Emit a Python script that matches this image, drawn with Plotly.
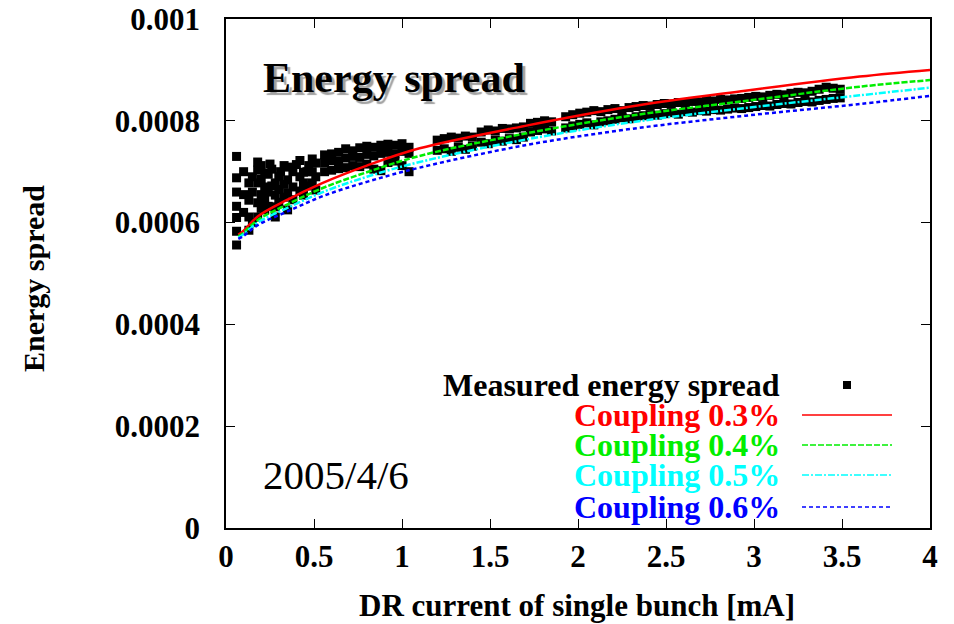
import plotly.graph_objects as go

# ---------------- data ----------------
# measured energy spread (x: DR current of single bunch [mA])
meas_x_low = [0.06, 0.06, 0.06, 0.06, 0.06, 0.06, 0.06,
              0.10, 0.10, 0.10,
              0.13, 0.13, 0.13, 0.13,
              0.15, 0.15, 0.15,
              0.18, 0.18, 0.18, 0.18, 0.18,
              0.20, 0.20, 0.20, 0.20,
              0.22, 0.22, 0.22, 0.22,
              0.24, 0.24, 0.24, 0.25,
              0.26, 0.26,
              0.28, 0.28, 0.28, 0.28,
              0.30, 0.30, 0.30, 0.31,
              0.33, 0.33, 0.33,
              0.35, 0.35, 0.35, 0.35,
              0.38, 0.38, 0.38, 0.40,
              0.42, 0.42, 0.42,
              0.44, 0.44, 0.44,
              0.46, 0.46, 0.47,
              0.49, 0.49, 0.49,
              0.51, 0.51, 0.51]
meas_y_low = [0.000730, 0.000688, 0.000660, 0.000632, 0.000610, 0.000583, 0.000556,
              0.000700, 0.000655, 0.000620,
              0.000678, 0.000644, 0.000611, 0.000585,
              0.000690, 0.000660, 0.000600,
              0.000719, 0.000703, 0.000678, 0.000639, 0.000611,
              0.000712, 0.000685, 0.000655, 0.000628,
              0.000697, 0.000670, 0.000644, 0.000625,
              0.000695, 0.000660, 0.000632, 0.000715,
              0.000705, 0.000672,
              0.000678, 0.000654, 0.000631, 0.000611,
              0.000690, 0.000665, 0.000640, 0.000700,
              0.000712, 0.000675, 0.000650,
              0.000709, 0.000684, 0.000658, 0.000625,
              0.000700, 0.000670, 0.000645, 0.000714,
              0.000722, 0.000690, 0.000662,
              0.000699, 0.000678, 0.000654,
              0.000700, 0.000672, 0.000712,
              0.000725, 0.000700, 0.000678,
              0.000717, 0.000690, 0.000664]

meas_x_mid = [0.56, 0.60, 0.64, 0.68, 0.72, 0.76, 0.80, 0.84, 0.88, 0.92, 0.96, 1.00, 1.04]
meas_y_mid_up = [0.000733, 0.000735, 0.000738, 0.000745, 0.000741, 0.000747, 0.000750,
                 0.000748, 0.000752, 0.000754, 0.000752, 0.000755, 0.000748]
meas_y_mid_md = [0.000718, 0.000722, 0.000720, 0.000727, 0.000730, 0.000728, 0.000734,
                 0.000731, 0.000736, 0.000738, 0.000735, 0.000740, 0.000736]
meas_y_mid_lo = [0.000700, 0.000703, 0.000706, 0.000708, 0.000712, 0.000710, 0.000715,
                 0.000705, 0.000702, 0.000718, 0.000721, 0.000712, 0.000700]

meas_x_a = [1.20, 1.24, 1.28, 1.32, 1.36, 1.40,
            1.45, 1.49, 1.53, 1.57, 1.61, 1.65, 1.69,
            1.73, 1.77, 1.81, 1.85,
            1.93, 1.97, 2.01, 2.05, 2.09, 2.13,
            2.17, 2.21, 2.25, 2.29]
meas_y_a_up = [0.000762, 0.000765, 0.000768, 0.000766, 0.000770, 0.000768,
               0.000778, 0.000782, 0.000780, 0.000785, 0.000784, 0.000786, 0.000788,
               0.000795, 0.000797, 0.000800, 0.000798,
               0.000808, 0.000812, 0.000815, 0.000817, 0.000820, 0.000818,
               0.000822, 0.000824, 0.000820, 0.000826]
meas_y_a_lo = [0.000742, 0.000745, 0.000740, 0.000748, 0.000744, 0.000750,
               0.000758, 0.000755, 0.000762, 0.000760, 0.000765, 0.000763, 0.000768,
               0.000778, 0.000781, 0.000784, 0.000780,
               0.000786, 0.000790, 0.000793, 0.000796, 0.000792, 0.000798,
               0.000800, 0.000803, 0.000806, 0.000804]

meas_x_b = [2.33, 2.37, 2.41, 2.45, 2.49, 2.53, 2.57, 2.61, 2.65, 2.69, 2.73, 2.77, 2.81, 2.85,
            2.89, 2.93, 2.97, 3.01, 3.05, 3.09, 3.13, 3.17, 3.21, 3.25, 3.29, 3.33, 3.37, 3.41,
            3.45, 3.49]
meas_y_b_up = [0.000828, 0.000830, 0.000829, 0.000832, 0.000834, 0.000833, 0.000836, 0.000835,
               0.000838, 0.000837, 0.000840, 0.000839, 0.000842, 0.000841, 0.000843, 0.000844,
               0.000846, 0.000848, 0.000847, 0.000850, 0.000852, 0.000851, 0.000854, 0.000856,
               0.000855, 0.000858, 0.000862, 0.000866, 0.000864, 0.000862]
meas_y_b_lo = [0.000808, 0.000810, 0.000812, 0.000811, 0.000814, 0.000816, 0.000813, 0.000818,
               0.000817, 0.000820, 0.000819, 0.000822, 0.000821, 0.000823, 0.000825, 0.000824,
               0.000826, 0.000828, 0.000830, 0.000829, 0.000832, 0.000834, 0.000833, 0.000836,
               0.000838, 0.000837, 0.000840, 0.000842, 0.000844, 0.000845]

# calculated curves
curve_x = [0.07, 0.10, 0.18, 0.35, 0.55, 0.80, 1.10, 1.70, 2.30, 2.95, 3.60, 4.00]
coupling_03 = [0.000576, 0.000584, 0.000612, 0.000645, 0.000678, 0.000712, 0.000746,
               0.000790, 0.000828, 0.000859, 0.000887, 0.000900]
coupling_04 = [0.000573, 0.000580, 0.000605, 0.000636, 0.000668, 0.000699, 0.000731,
               0.000775, 0.000810, 0.000839, 0.000867, 0.000880]
coupling_05 = [0.000570, 0.000577, 0.000600, 0.000629, 0.000660, 0.000690, 0.000719,
               0.000763, 0.000797, 0.000825, 0.000850, 0.000865]
coupling_06 = [0.000568, 0.000574, 0.000595, 0.000622, 0.000652, 0.000680, 0.000708,
               0.000752, 0.000784, 0.000810, 0.000833, 0.000849]

x_ticks = [0, 0.5, 1, 1.5, 2, 2.5, 3, 3.5, 4]
x_tick_labels = ["0", "0.5", "1", "1.5", "2", "2.5", "3", "3.5", "4"]
y_ticks = [0, 0.0002, 0.0004, 0.0006, 0.0008, 0.001]
y_tick_labels = ["0", "0.0002", "0.0004", "0.0006", "0.0008", "0.001"]

series_names = ["Coupling 0.3%", "Coupling 0.4%", "Coupling 0.5%", "Coupling 0.6%"]
series_colors = ["#ff0000", "#00ee00", "#00ffff", "#0000ff"]
series_dash = ["solid", "6px,2px", "7px,2px,2px,2px", "4px,3px"]

# ---------------- figure ----------------
meas_x = (meas_x_low + meas_x_mid * 3 + meas_x_a * 2 + meas_x_b * 2)
meas_y = (meas_y_low + meas_y_mid_up + meas_y_mid_md + meas_y_mid_lo
          + meas_y_a_up + meas_y_a_lo + meas_y_b_up + meas_y_b_lo)

SERIF = "Liberation Serif, Times New Roman, serif"
fig = go.Figure()
fig.add_trace(go.Scatter(x=meas_x, y=meas_y, mode="markers", name="Measured energy spread",
                         marker=dict(symbol="square", size=9, color="black", line=dict(width=0))))
for name, ys, col, dsh in zip(series_names, [coupling_03, coupling_04, coupling_05, coupling_06],
                              series_colors, series_dash):
    fig.add_trace(go.Scatter(x=curve_x, y=ys, mode="lines", name=name, line_shape="spline",
                             line=dict(color=col, width=2.5, dash=dsh)))

axis_common = dict(showline=True, linecolor="black", linewidth=1.5, mirror="ticks",
                   ticks="inside", ticklen=9, tickcolor="black", tickwidth=1.2,
                   showgrid=False, zeroline=False, automargin=False,
                   tickfont=dict(family=SERIF, size=31, color="black", weight="bold"))
fig.update_xaxes(range=[0, 4], tickvals=x_ticks, ticktext=x_tick_labels,
                 ticklabelstandoff=0, **axis_common)
fig.update_yaxes(range=[0, 0.001], tickvals=y_ticks, ticktext=y_tick_labels,
                 ticklabelstandoff=18, **axis_common)

X0, X1 = 226, 930
Y0, Y1 = 528, 19
def px(v):
    return (v - X0) / (X1 - X0)
def py(v):
    return (Y0 - v) / (Y0 - Y1)

ann = []
# title with shadow
ann.append(dict(text="Energy spread", x=px(261), y=py(78), xref="paper", yref="paper",
                xanchor="left", yanchor="middle", showarrow=False,
                font=dict(family=SERIF, size=42, color="black", weight="bold",
                          shadow="3px 3px 1px #a0a0a0")))
ann.append(dict(text="2005/4/6", x=px(261), y=py(475), xref="paper", yref="paper",
                xanchor="left", yanchor="middle", showarrow=False,
                font=dict(family=SERIF, size=41, color="black")))
# axis titles
ann.append(dict(text="DR current of single bunch [mA]", x=px(577), y=py(605), xref="paper",
                yref="paper", xanchor="center", yanchor="middle", showarrow=False,
                font=dict(family=SERIF, size=31, color="black", weight="bold")))
ann.append(dict(text="Energy spread", x=px(33), y=py(279), xref="paper", yref="paper",
                xanchor="center", yanchor="middle", showarrow=False, textangle=-90,
                font=dict(family=SERIF, size=30, color="black", weight="bold")))
# legend (gnuplot style: text right-aligned, sample at right)
ann.append(dict(text="Measured energy spread", x=px(782), y=py(385), xref="paper",
                yref="paper", xanchor="right", yanchor="middle", showarrow=False,
                font=dict(family=SERIF, size=32, color="black", weight="bold")))
rows = [415, 445, 475, 507]
shapes = [dict(type="rect", xref="paper", yref="paper", x0=px(843), x1=px(851),
               y0=py(389), y1=py(381), fillcolor="black", line=dict(width=0))]
for name, col, dsh, r in zip(series_names, series_colors, series_dash, rows):
    ann.append(dict(text=name, x=px(782), y=py(r), xref="paper", yref="paper",
                    xanchor="right", yanchor="middle", showarrow=False,
                    font=dict(family=SERIF, size=32, color=col, weight="bold")))
    shapes.append(dict(type="line", xref="paper", yref="paper", x0=px(802), x1=px(892),
                       y0=py(r), y1=py(r), line=dict(color=col, width=1.5, dash=dsh)))

fig.update_layout(width=954, height=624, margin=dict(l=X0, r=954 - X1, t=Y1, b=624 - Y0),
                  paper_bgcolor="white", plot_bgcolor="white", showlegend=False,
                  annotations=ann, shapes=shapes)
fig.write_html("out.html")
